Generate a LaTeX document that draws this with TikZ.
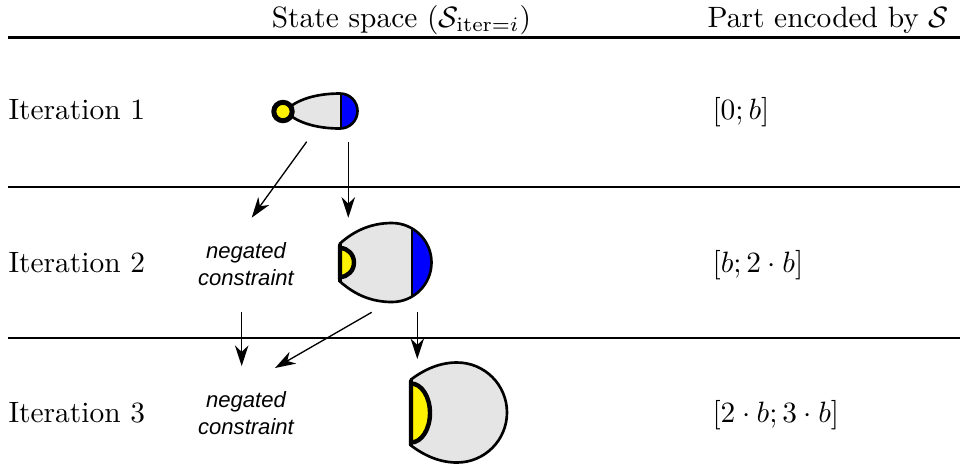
\documentclass[tikz,border=0pt]{standalone}
\usepackage{fontspec}
\newfontfamily\helv{Liberation Sans}
\usetikzlibrary{arrows.meta}
\begin{document}
\begin{tikzpicture}[x=0.34pt,y=-0.34pt,
  rule/.style={line width=0.75pt},
  rowtext/.style={anchor=base west, inner sep=0pt},
  negnote/.style={font=\helv\itshape\fontsize{7.5}{9.1}\selectfont, align=center, inner sep=0pt},
  flow/.style={line width=0.45pt, -{Stealth[length=7pt,width=4.6pt,inset=2.2pt]}},
  outline/.style={draw=black, line width=0.9pt},
  seed/.style={fill=yellow, draw=black, line width=1.5pt},
  cut/.style={draw=black, line width=0.4pt},
]
\useasboundingbox (0,0) rectangle (960,466);

% table rules
\draw[rule] (8,37.5) -- (960,37.5);
\draw[rule] (8,187.3) -- (960,187.3);
\draw[rule] (8,338.3) -- (960,338.3);

% header
\node[anchor=base, inner sep=0pt] (hstate) at (401.5,27) {State space ($\mathcal{S}_{\mathrm{iter}=i}$)};
\node[rowtext] (hpart) at (707,27) {Part encoded by $\mathcal{S}$};

% row labels
\node[rowtext] (it1) at (8,119) {Iteration 1};
\node[rowtext] (it2) at (8,272) {Iteration 2};
\node[rowtext] (it3) at (8,422) {Iteration 3};

\node[rowtext] (p1) at (712,119) {$[0; b]$};
\node[rowtext] (p2) at (712,272) {$[b; 2\cdot b]$};
\node[rowtext] (p3) at (712,422) {$[2\cdot b; 3\cdot b]$};

% iteration 1: teardrop with seed
\def\tearone{(291,106) .. controls (305,96) and (325,93.5) .. (340,93.5)
  arc[start angle=-90,end angle=90,radius=17.5]
  .. controls (325,128.5) and (305,126) .. (291,116) -- cycle}
\fill[gray!20] \tearone;
\begin{scope}
  \clip \tearone;
  \fill[blue] (341,80) rectangle (370,140);
  \draw[cut] (341,80) -- (341,140);
\end{scope}
\path[outline] \tearone;
\draw[seed, line width=1.7pt] (283,111.5) circle[radius=9.2];

% iteration 2
\def\teartwo{(340,243.5) .. controls (355,230) and (372,223) .. (392,223)
  arc[start angle=-90,end angle=90,radius=39.5]
  .. controls (372,302) and (355,295) .. (340,281.5) -- cycle}
\fill[gray!20] \teartwo;
\begin{scope}
  \clip \teartwo;
  \fill[blue] (412,210) rectangle (440,310);
  \draw[cut] (412,210) -- (412,310);
\end{scope}
\path[outline] \teartwo;
\draw[line width=1.5pt] (340,243.5) -- (340,281.5);
\draw[seed] (340,248) arc[start angle=-90,end angle=90,x radius=14,y radius=14.5] -- cycle;

% iteration 3
\def\tearthree{(411,379.5) .. controls (425,369) and (440,362.5) .. (457,362.5)
  arc[start angle=-90,end angle=90,radius=50]
  .. controls (440,462.5) and (425,456) .. (411,445.5) -- cycle}
\fill[gray!20] \tearthree;
\path[outline] \tearthree;
\draw[line width=1.5pt] (411,379.5) -- (411,445.5);
\draw[seed] (411,383.5) arc[start angle=-90,end angle=90,x radius=19,y radius=29.5] -- cycle;

% negated constraints
\node[negnote] (neg2) at (246,264) {negated\\constraint};
\node[negnote] (neg3) at (246,413) {negated\\constraint};

% arrows
\coordinate (s1) at (306.7,141.7);
\coordinate (t1) at (251.7,217.7);
\coordinate (s2) at (348.3,141.7);
\coordinate (t2) at (348.3,217.7);
\coordinate (s3) at (241.7,312.3);
\coordinate (t3) at (241.7,366);
\coordinate (s4) at (371.7,312.3);
\coordinate (t4) at (275,368);
\coordinate (s5) at (417.3,312.3);
\coordinate (t5) at (417.3,359);
\draw[flow] (s1) -- (t1);
\draw[flow] (s2) -- (t2);
\draw[flow] (s3) -- (t3);
\draw[flow] (s4) -- (t4);
\draw[flow] (s5) -- (t5);
\end{tikzpicture}
\end{document}
